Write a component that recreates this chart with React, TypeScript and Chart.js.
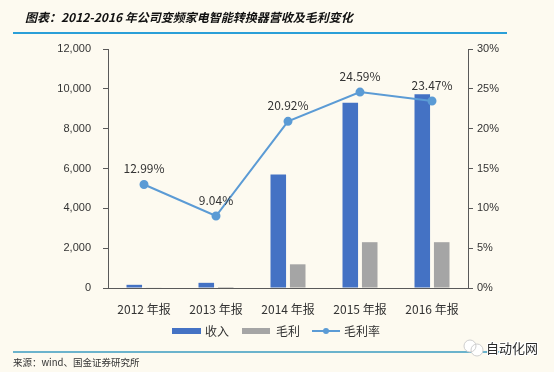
import React, { useEffect, useRef } from "react";
import { Chart, registerables } from "chart.js";

Chart.register(...registerables);

const categories = ["2012 年报", "2013 年报", "2014 年报", "2015 年报", "2016 年报"];
const revenue = [160, 260, 5700, 9300, 9730];
const grossProfit = [30, 50, 1190, 2300, 2300];
const grossMargin = [12.99, 9.04, 20.92, 24.59, 23.47];
const leftTicks = [0, 2000, 4000, 6000, 8000, 10000, 12000];
const rightTicks = [0, 5, 10, 15, 20, 25, 30];
const seriesNames = ["收入", "毛利", "毛利率"];
const titleText = "图表：2012-2016 年公司变频家电智能转换器营收及毛利变化";
const sourceText = "来源：wind、国金证券研究所";
const watermarkText = "自动化网";

const BG = "#fdfaf0";
const BLUE = "#4472c4";
const GRAY = "#a5a5a5";
const LINE = "#5b9bd5";
const AXIS = "#595959";
const TEXT = "#333333";
const CJK = "'Noto Sans CJK SC', 'Liberation Sans', sans-serif";

const W = 554;
const H = 372;
const LEFT = 108;
const RIGHT = 468;
const TOP = 49;
const BOTTOM = 288;

const decorPlugin = {
  id: "decor",
  beforeDraw(chart: any) {
    const ctx = chart.ctx;
    ctx.save();
    ctx.fillStyle = BG;
    ctx.fillRect(0, 0, chart.width, chart.height);
    ctx.restore();
  },
  afterDraw(chart: any) {
    const ctx = chart.ctx;
    ctx.save();
    // title
    ctx.fillStyle = "#111";
    ctx.font = `italic bold 12px ${CJK}`;
    ctx.textBaseline = "middle";
    ctx.textAlign = "left";
    ctx.fillText(titleText, 25, 17);
    // top rule
    ctx.strokeStyle = "#2a9fd8";
    ctx.lineWidth = 2;
    ctx.beginPath();
    ctx.moveTo(13, 33);
    ctx.lineTo(507, 33);
    ctx.stroke();
    // bottom rule
    ctx.strokeStyle = "#3a9bc0";
    ctx.lineWidth = 1.5;
    ctx.beginPath();
    ctx.moveTo(13, 352);
    ctx.lineTo(507, 352);
    ctx.stroke();
    // source
    ctx.fillStyle = TEXT;
    ctx.font = `9.5px ${CJK}`;
    ctx.fillText(sourceText, 13, 362);
    // watermark
    ctx.fillStyle = "#ffffff";
    ctx.beginPath();
    ctx.arc(470, 346, 6, 0, Math.PI * 2);
    ctx.fill();
    ctx.beginPath();
    ctx.arc(477, 350, 6, 0, Math.PI * 2);
    ctx.fill();
    ctx.strokeStyle = "#cfcfcf";
    ctx.lineWidth = 1;
    ctx.beginPath();
    ctx.arc(470, 346, 6, 0, Math.PI * 2);
    ctx.stroke();
    ctx.beginPath();
    ctx.arc(477, 350, 6, 0, Math.PI * 2);
    ctx.stroke();
    ctx.font = `13px ${CJK}`;
    ctx.lineWidth = 2;
    ctx.strokeStyle = "#ffffff";
    ctx.strokeText(watermarkText, 486, 348);
    ctx.fillStyle = "#2b2b2b";
    ctx.fillText(watermarkText, 486, 348);

    // point labels
    const meta = chart.getDatasetMeta(0);
    ctx.font = `12px ${CJK}`;
    ctx.fillStyle = TEXT;
    ctx.textAlign = "center";
    meta.data.forEach((pt: any, i: number) => {
      ctx.fillText(grossMargin[i].toFixed(2) + "%", pt.x, pt.y - 16);
    });

    // legend
    ctx.textAlign = "left";
    ctx.font = `12px ${CJK}`;
    const ly = 331;
    ctx.fillStyle = BLUE;
    ctx.fillRect(172, ly - 3, 29, 6);
    ctx.fillStyle = TEXT;
    ctx.fillText(seriesNames[0], 205, ly);
    ctx.fillStyle = GRAY;
    ctx.fillRect(242, ly - 3, 28, 6);
    ctx.fillStyle = TEXT;
    ctx.fillText(seriesNames[1], 276, ly);
    ctx.strokeStyle = LINE;
    ctx.lineWidth = 2;
    ctx.beginPath();
    ctx.moveTo(312, ly);
    ctx.lineTo(340, ly);
    ctx.stroke();
    ctx.fillStyle = LINE;
    ctx.beginPath();
    ctx.arc(326, ly, 3, 0, Math.PI * 2);
    ctx.fill();
    ctx.fillStyle = TEXT;
    ctx.fillText(seriesNames[2], 344, ly);
    ctx.restore();
  },
};

export default function App() {
  const ref = useRef<HTMLCanvasElement>(null);
  useEffect(() => {
    if (!ref.current) return;
    const chart = new Chart(ref.current, {
      type: "bar",
      data: {
        labels: categories,
        datasets: [
          {
            type: "line",
            label: seriesNames[2],
            data: grossMargin,
            yAxisID: "y1",
            borderColor: LINE,
            backgroundColor: LINE,
            borderWidth: 2,
            pointRadius: 3.5,
            pointBackgroundColor: LINE,
            pointBorderColor: LINE,
            tension: 0,
            order: 0,
          } as any,
          {
            type: "bar",
            label: seriesNames[0],
            data: revenue,
            yAxisID: "y",
            backgroundColor: BLUE,
            categoryPercentage: 0.54,
            barPercentage: 0.8,
            order: 1,
          },
          {
            type: "bar",
            label: seriesNames[1],
            data: grossProfit,
            yAxisID: "y",
            backgroundColor: GRAY,
            categoryPercentage: 0.54,
            barPercentage: 0.8,
            order: 1,
          },
        ],
      },
      options: {
        animation: false,
        responsive: false,
        layout: { padding: { top: TOP, left: 0, right: 0, bottom: 54 } },
        plugins: { legend: { display: false }, tooltip: { enabled: false }, title: { display: false } },
        scales: {
          x: {
            grid: { display: false },
            border: { display: true, color: AXIS, width: 1 },
            ticks: { color: TEXT, font: { size: 12, family: CJK }, padding: 6 },
            afterFit(scale: any) {
              scale.height = H - 54 - BOTTOM;
            },
          },
          y: {
            position: "left",
            min: 0,
            max: 12000,
            afterBuildTicks(scale: any) {
              scale.ticks = leftTicks.map((v) => ({ value: v }));
            },
            grid: { drawOnChartArea: false, drawTicks: true, tickLength: 5, color: AXIS },
            border: { display: true, color: AXIS, width: 1 },
            ticks: {
              color: TEXT,
              font: { size: 11, family: "'Liberation Sans', sans-serif" },
              padding: 12,
              callback: (v: any) => Number(v).toLocaleString("en-US"),
            },
            afterFit(scale: any) {
              scale.width = LEFT;
            },
          },
          y1: {
            position: "right",
            min: 0,
            max: 30,
            afterBuildTicks(scale: any) {
              scale.ticks = rightTicks.map((v) => ({ value: v }));
            },
            grid: { drawOnChartArea: false, drawTicks: true, tickLength: 5, color: AXIS },
            border: { display: true, color: AXIS, width: 1 },
            ticks: {
              color: TEXT,
              font: { size: 11, family: "'Liberation Sans', sans-serif" },
              padding: 4,
              callback: (v: any) => v + "%",
            },
            afterFit(scale: any) {
              scale.width = W - RIGHT;
            },
          },
        },
      } as any,
      plugins: [decorPlugin],
    });
    return () => chart.destroy();
  }, []);
  return (
    <div style={{ position: "absolute", left: 0, top: 0, width: W, height: H }}>
      <canvas ref={ref} width={W} height={H} style={{ width: W, height: H }} />
    </div>
  );
}
